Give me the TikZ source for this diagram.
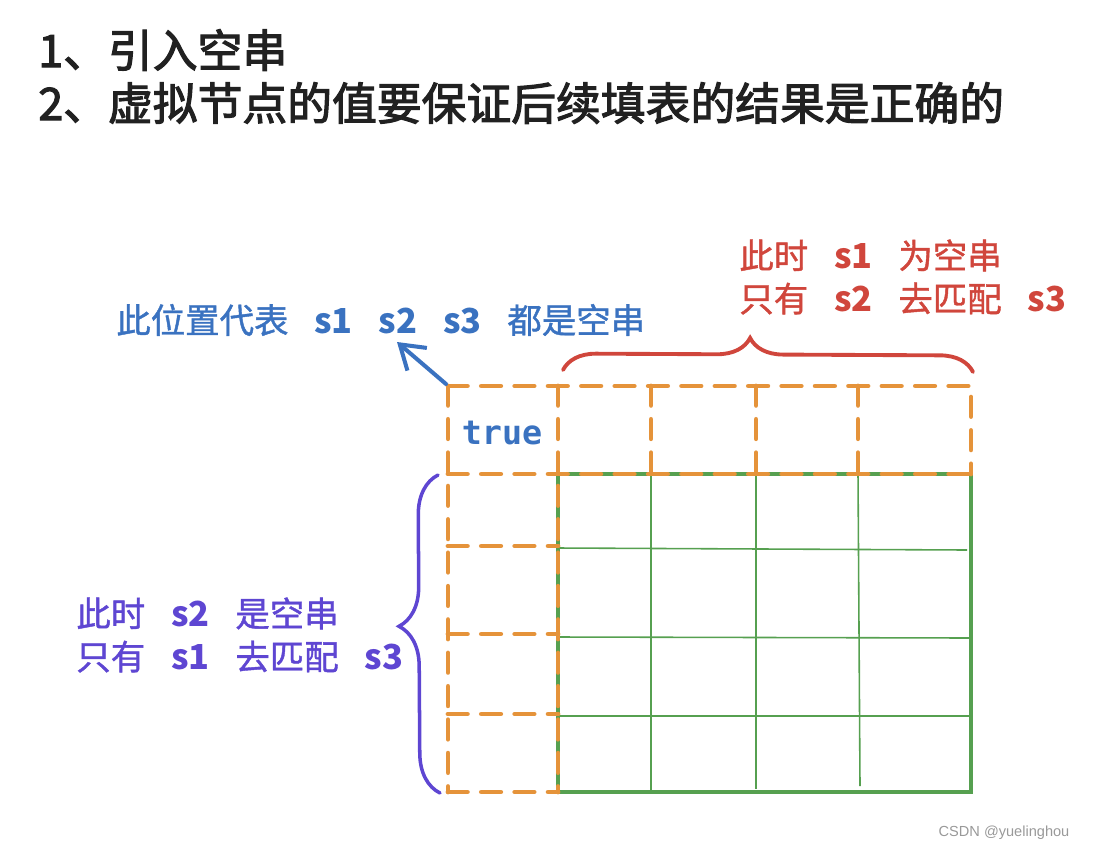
\documentclass[tikz,border=0pt]{standalone}
\usepackage{fontspec}
\setmainfont{Noto Sans CJK SC}
\newfontfamily\headfont{Noto Sans CJK SC}[FakeBold=2.5]
\newfontfamily\notefont{Noto Sans CJK SC}[UprightFeatures={FakeBold=1.2}]
\newfontfamily\codefont{DejaVu Sans Mono}
\newfontfamily\wmfont{Liberation Sans}
\usetikzlibrary{positioning,arrows.meta,decorations.pathreplacing}
\definecolor{tblue}{HTML}{3A72C0}
\definecolor{tred}{HTML}{D0463C}
\definecolor{tpurple}{HTML}{5E46D2}
\definecolor{vorange}{HTML}{E5933A}
\definecolor{ogreen}{HTML}{56A050}
\newcommand\sgap{\hspace{0.75em}}
\tikzstyle{title}=[anchor=west,inner sep=0pt,text=black!87,
font=\headfont\fontsize{25.5}{30}\selectfont]
\tikzstyle{note}=[anchor=west,inner sep=0pt,align=left,
font=\notefont\fontsize{19.6}{24.5}\selectfont]
\tikzstyle{cell}=[draw=ogreen,line width=0.9pt]
\tikzstyle{frame}=[draw=ogreen,line width=2.3pt]
\tikzstyle{virt}=[draw=vorange,line width=2.8pt,dash pattern=on 11pt off 8pt,line cap=round]
\tikzstyle{bracket}=[decorate,line width=2.2pt,line cap=round]

\begin{document}
\begin{tikzpicture}[x=0.02cm,y=-0.02cm]
            \useasboundingbox (0,0) rectangle (1094,852);

            % HEADING PART

            \node[title] (h1) at (38,50) {1、引入空串};
            \node[title] (h2) at (38,103) {2、虚拟节点的值要保证后续填表的结果是正确的};

            % TABLE PART

            \draw[cell] (651,474) -- (651,792);
            \draw[cell] (756,474) -- (756,789);
            \draw[cell] (858,474) -- (860,786);
            \draw[cell] (558,548) -- (967,550);
            \draw[cell] (558,637) -- (971,638);
            \draw[cell] (558,716) -- (971,716);
            \draw[frame] (558,474) -- (971,474) -- (971,792) -- (558,792) -- cycle;

            % VIRTUAL ROW AND COLUMN

            \draw[virt] (448,386) -- (971,386) -- (971,474);
            \draw[virt] (448,474) -- (971,474);
            \draw[virt] (448,386) -- (448,792);
            \draw[virt] (558,386) -- (558,792);
            \draw[virt] (651,386) -- (651,474);
            \draw[virt] (756,386) -- (756,474);
            \draw[virt] (858,386) -- (858,474);
            \draw[virt] (448,546) -- (558,546);
            \draw[virt] (448,634) -- (558,634);
            \draw[virt] (448,714) -- (558,714);
            \draw[virt] (448,792) -- (558,792);

            \node[inner sep=0pt,text=tblue,font=\codefont\bfseries\fontsize{19}{22}\selectfont] (t0) at (502,433) {true};

            % NOTES PART

            \node[note,text=tblue] (l1) at (116,320) {此位置代表\sgap\textbf{s1}\sgap\textbf{s2}\sgap\textbf{s3}\sgap 都是空串};
            \coordinate (c0) at (446,384);
            \coordinate (a0) at (397,342);
            \draw[-{Straight Barb[length=13pt,width=17pt]},draw=tblue,line width=2.3pt,line cap=round] (c0) -- (a0);

            \node[note,text=tred] (l2) at (739,277) {此时\sgap\textbf{s1}\sgap 为空串\\只有\sgap\textbf{s2}\sgap 去匹配\sgap\textbf{s3}};
            \draw[bracket,draw=tred,decoration={brace,amplitude=0.66cm,aspect=0.456}] (563,370) -- (973,372);

            \node[note,text=tpurple] (l3) at (76,635) {此时\sgap\textbf{s2}\sgap 是空串\\只有\sgap\textbf{s1}\sgap 去匹配\sgap\textbf{s3}};
            \draw[bracket,draw=tpurple,line width=2pt,decoration={brace,amplitude=0.8cm,aspect=0.525}] (440,793) -- (438,475);

            \node[inner sep=0pt,text=black!40,font=\wmfont\fontsize{8.3}{10}\selectfont] (w0) at (1004,833) {CSDN @yuelinghou};

\end{tikzpicture}
\end{document}
